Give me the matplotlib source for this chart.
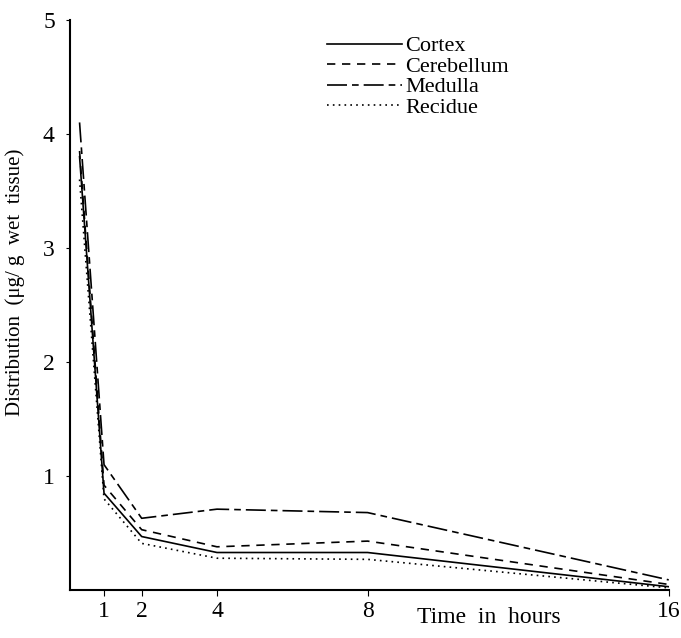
import matplotlib
matplotlib.use("Agg")
import matplotlib.pyplot as plt

hours = [0.35, 1, 2, 4, 8, 16]
cortex = [3.8, 0.85, 0.47, 0.33, 0.33, 0.03]
cerebellum = [3.85, 0.92, 0.53, 0.38, 0.43, 0.05]
medulla = [4.1, 1.1, 0.63, 0.71, 0.68, 0.09]
recidue = [3.6, 0.8, 0.41, 0.28, 0.27, 0.02]
series_names = ["Cortex", "Cerebellum", "Medulla", "Recidue"]
xticks = [1, 2, 4, 8, 16]
yticks = [1, 2, 3, 4, 5]

plt.rcParams['font.family'] = ['Liberation Serif', 'DejaVu Serif']

fig = plt.figure(figsize=(6.81, 6.38), dpi=100)
ax = fig.add_axes([0.103, 0.075, 0.879, 0.894])

styles = ['-', (0, (5, 4)), (0, (12, 3, 4, 3)), (0, (1, 2.5))]
for vals, name, ls in zip([cortex, cerebellum, medulla, recidue], series_names, styles):
    ax.plot(hours, vals, color='black', linestyle=ls, linewidth=1.2, label=name)

ax.set_xlim(0.1, 16)
ax.set_ylim(0, 5)
ax.set_xticks(xticks)
ax.set_xticklabels([str(t) for t in xticks])
ax.set_yticks(yticks)
ax.set_yticklabels([str(t) for t in yticks])
ax.spines['top'].set_visible(False)
ax.spines['right'].set_visible(False)
ax.spines['left'].set_linewidth(1.5)
ax.spines['bottom'].set_linewidth(1.5)
ax.tick_params(axis='x', direction='out', length=4, pad=4, labelsize=17)
ax.tick_params(axis='y', direction='out', length=3, pad=8, labelsize=17)

ax.set_xlabel("Time  in  hours", fontsize=17)
ax.xaxis.set_label_coords(0.70, -0.03)
ax.set_ylabel("Distribution  (μg/ g  wet  tissue)", fontsize=15)
ax.yaxis.set_label_coords(-0.075, 0.54)

leg = ax.legend(loc='upper left', bbox_to_anchor=(0.395, 1.007), frameon=False,
                fontsize=16, handlelength=3.4, handletextpad=0.15, labelspacing=0.0)

fig.savefig("out.png", dpi=100)
